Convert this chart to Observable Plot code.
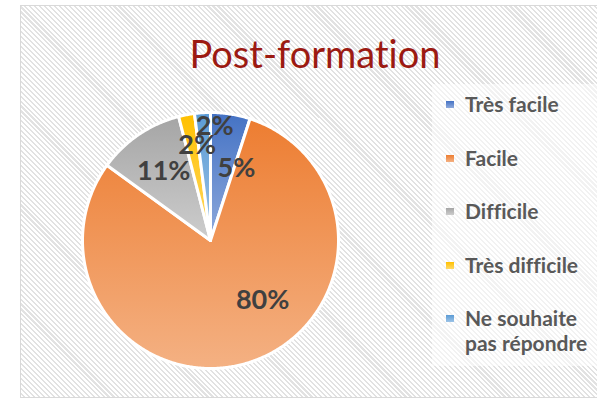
<!DOCTYPE html>
<html>
<head>
<meta charset="utf-8">
<script src="https://cdn.jsdelivr.net/npm/d3@7"></script>
<script src="https://cdn.jsdelivr.net/npm/@observablehq/plot@0.6"></script>
<style>
  html, body { margin: 0; padding: 0; background: #fff; }
  #wrap { position: relative; width: 597px; height: 400px; overflow: hidden; font-family: Lato, "Open Sans", sans-serif; font-variant-ligatures: none; }
  #frame { position: absolute; left: 20px; top: 5px; width: 600px; height: 391px;
    border: 1.5px solid #d9d9d9;
    background: repeating-linear-gradient(45deg, #ffffff 0px, #ffffff 2px, #e2e2e2 2px, #e2e2e2 3.5px); }
  #legendbg { position: absolute; left: 432px; top: 84px; width: 170px; height: 282px; background: rgba(255,255,255,0.55); }
  #title { position: absolute; left: 0; top: 34px; width: 630px; text-align: center; font-size: 38px; line-height: 38px; color: #9C1A12; }
  #chart { position: absolute; left: 0; top: 0; }
  .li { position: absolute; left: 465px; width: 134px; font-size: 21px; line-height: 25px; font-weight: bold; color: #595959; }
  .sw { position: absolute; left: 446px; width: 8px; height: 7px; }
</style>
</head>
<body>
<div id="wrap">
  <div id="frame"></div>
  <div id="legendbg"></div>
  <div id="title"></div>
  <div id="chart"></div>
  <div id="legend"></div>
</div>
<svg width="0" height="0" style="position:absolute">
  <defs id="grads"></defs>
</svg>
<script>
// ---- data ----
const title = "Post-formation";
const categories = ["Très facile", "Facile", "Difficile", "Très difficile", "Ne souhaite pas répondre"];
const values = [5, 80, 11, 2, 2];
const valueLabels = ["5%", "80%", "11%", "2%", "2%"];
const colorsTop = ["#4472C4", "#ED7D31", "#A5A5A5", "#FFC000", "#5B9BD5"];
const colorsBottom = ["#8FAADC", "#F4B183", "#CDCDCD", "#FFD966", "#9DC3E6"];

// ---- layout ----
const W = 597, H = 400, cx = 210, cy = 240, R = 128;

document.getElementById("title").textContent = title;

// gradients
const defs = d3.select("#grads");
categories.forEach((c, i) => {
  const g = defs.append("linearGradient").attr("id", "g" + i)
    .attr("x1", 0).attr("y1", 0).attr("x2", 0).attr("y2", 1);
  g.append("stop").attr("offset", "0%").attr("stop-color", colorsTop[i]);
  g.append("stop").attr("offset", "100%").attr("stop-color", colorsBottom[i]);
});

// pie geometry
const arcs = d3.pie().sort(null).value(d => d)(values);
const slices = arcs.map((a, i) => {
  const n = Math.max(2, Math.ceil((a.endAngle - a.startAngle) / (Math.PI / 360)));
  const pts = [{x: 0, y: 0}];
  for (let k = 0; k <= n; k++) {
    const t = a.startAngle + (a.endAngle - a.startAngle) * k / n;
    pts.push({x: Math.sin(t), y: Math.cos(t)});
  }
  return pts;
});

// label placement: mid-angle, larger slices toward the inside, tiny slices stacked outward
let tiny = 0;
const labelData = arcs.map((a, i) => {
  const span = a.endAngle - a.startAngle;
  let mid = (a.startAngle + a.endAngle) / 2;
  let f = 0.65;
  if (values[i] < 3) { f = 0.75 + 0.14 * tiny; mid += 0.05 + 0.05 * tiny; tiny++; }
  else if (span > Math.PI) { mid -= span * 0.08; f = 0.62; }
  else if (values[i] < 8) { mid += span * 0.6; f = 0.6; }
  return {x: f * Math.sin(mid), y: f * Math.cos(mid), text: valueLabels[i]};
});

const chart = Plot.plot({
  width: W, height: H,
  margin: 0,
  style: {background: "transparent", overflow: "visible"},
  x: {domain: [-cx / R, (W - cx) / R], axis: null},
  y: {domain: [-(H - cy) / R, cy / R], axis: null},
  marks: [
    ...slices.map((pts, i) => Plot.line(pts, {
      x: "x", y: "y", curve: "linear-closed",
      fill: `url(#g${i})`, stroke: "white", strokeWidth: 3, strokeLinejoin: "round"
    })),
    Plot.text(labelData, {
      x: "x", y: "y", text: "text",
      fontSize: 27, fontWeight: "bold", fill: "#404040",
      fontFamily: "Lato, 'Open Sans', sans-serif"
    })
  ]
});
document.getElementById("chart").appendChild(chart);

// legend
const legend = document.getElementById("legend");
categories.forEach((c, i) => {
  const top = 91 + i * 53.5;
  const sw = document.createElement("div");
  sw.className = "sw";
  sw.style.top = (top + 10) + "px";
  sw.style.background = `linear-gradient(${colorsTop[i]}, ${colorsBottom[i]})`;
  legend.appendChild(sw);
  const li = document.createElement("div");
  li.className = "li";
  li.style.top = top + "px";
  li.textContent = c;
  legend.appendChild(li);
});
</script>
</body>
</html>
